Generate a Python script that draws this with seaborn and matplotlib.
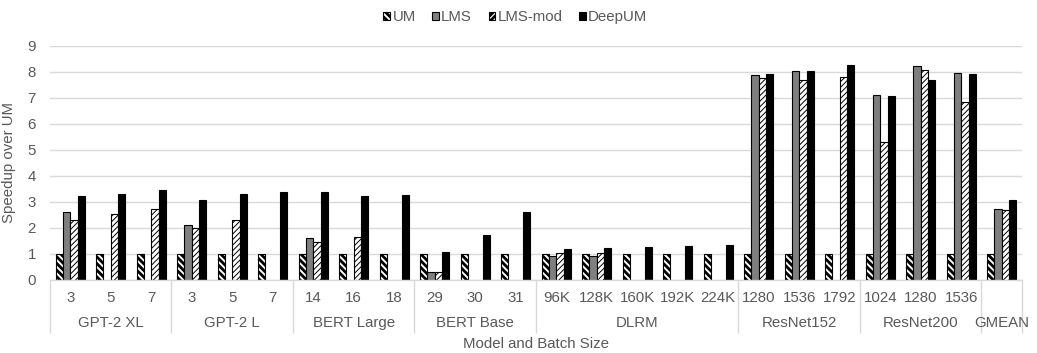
import numpy as np
import pandas as pd
import matplotlib
matplotlib.use("Agg")
import matplotlib.pyplot as plt
from matplotlib.patches import Patch
import seaborn as sns

# ---- data -------------------------------------------------------------
groups = ["GPT-2 XL", "GPT-2 L", "BERT Large", "BERT Base", "DLRM",
          "ResNet152", "ResNet200", "GMEAN"]
batch_sizes = [
    ["3", "5", "7"],
    ["3", "5", "7"],
    ["14", "16", "18"],
    ["29", "30", "31"],
    ["96K", "128K", "160K", "192K", "224K"],
    ["1280", "1536", "1792"],
    ["1024", "1280", "1536"],
    [""],
]
series = ["UM", "LMS", "LMS-mod", "DeepUM"]
nan = np.nan
um = [1.0] * 24
lms = [2.63, nan, nan, 2.11, nan, nan, 1.61, nan, nan, 0.30, nan, nan,
       0.93, 0.91, nan, nan, nan, 7.90, 8.04, nan, 7.12, 8.22, 7.98, 2.74]
lms_mod = [2.30, 2.55, 2.74, 2.00, 2.30, nan, 1.48, 1.66, nan, 0.30, nan, nan,
           1.05, 1.04, nan, nan, nan, 7.76, 7.68, 7.79, 5.29, 8.07, 6.83, 2.69]
deepum = [3.22, 3.29, 3.47, 3.08, 3.30, 3.37, 3.37, 3.24, 3.27, 1.06, 1.74, 2.62,
          1.20, 1.22, 1.27, 1.32, 1.33, 7.91, 8.03, 8.27, 7.08, 7.71, 7.94, 3.06]

# ---- long-form table ----------------------------------------------------
keys, tick_labels = [], []
for g, sizes in zip(groups, batch_sizes):
    for b in sizes:
        keys.append(f"{g}|{b}")
        tick_labels.append(b)

rows = []
for name, vals in zip(series, [um, lms, lms_mod, deepum]):
    for k, v in zip(keys, vals):
        rows.append({"key": k, "series": name, "speedup": v})
df = pd.DataFrame(rows)

# ---- style ----------------------------------------------------------------
sns.set_style("white")
plt.rcParams["font.family"] = ["Liberation Sans", "DejaVu Sans"]
plt.rcParams["hatch.linewidth"] = 2.0
text_color = "#595959"
grid_color = "#d9d9d9"

fig = plt.figure(figsize=(10.37, 3.53), dpi=100)
ax = fig.add_axes([0.0482, 0.2068, 0.9373, 0.6629])

palette = {"UM": "white", "LMS": "#7f7f7f", "LMS-mod": "white", "DeepUM": "black"}
hatches = {"UM": "\\\\\\\\\\", "LMS": "", "LMS-mod": "//////", "DeepUM": ""}
hatch_widths = {"UM": 2.0, "LMS": 1.0, "LMS-mod": 0.7, "DeepUM": 1.0}

sns.barplot(data=df, x="key", y="speedup", hue="series", order=keys,
            hue_order=series, palette=palette, width=0.72, errorbar=None,
            edgecolor="black", linewidth=0.8, legend=False, ax=ax)

for name, cont in zip(series, ax.containers):
    for bar in cont:
        bar.set_hatch(hatches[name])
        if hasattr(bar, "set_hatch_linewidth"):
            bar.set_hatch_linewidth(hatch_widths[name])

# ---- axes ------------------------------------------------------------------
ax.set_ylim(0, 9)
ax.set_yticks(range(10))
ax.yaxis.grid(True, color=grid_color, linewidth=1)
ax.set_axisbelow(True)
for side in ["top", "right", "left"]:
    ax.spines[side].set_visible(False)
ax.spines["bottom"].set_color(grid_color)
ax.spines["bottom"].set_linewidth(1)

ax.set_xlim(-0.5, len(keys) - 0.5)
ax.set_xticks(range(len(keys)))
ax.set_xticklabels(tick_labels)
ax.tick_params(axis="x", which="both", bottom=True)
ax.tick_params(axis="x", which="major", length=0, pad=8, labelsize=10.8,
               labelcolor=text_color)
ax.tick_params(axis="y", length=0, pad=10, labelsize=10.8, labelcolor=text_color)

# group separators drawn as long minor ticks
bounds = [-0.5]
pos = -0.5
for sizes in batch_sizes:
    pos += len(sizes)
    bounds.append(pos)
ax.set_xticks(bounds, minor=True)
ax.tick_params(axis="x", which="minor", length=38, width=1, color=grid_color,
               direction="out", labelbottom=False)

# group names under the batch sizes
start = 0
for g, sizes in zip(groups, batch_sizes):
    center = start + (len(sizes) - 1) / 2
    ax.annotate(g, xy=(center, 0), xycoords=("data", "axes fraction"),
                xytext=(0, -43), textcoords="offset pixels",
                ha="center", va="center", fontsize=10.8, color=text_color)
    start += len(sizes)

ax.set_xlabel("Model and Batch Size", fontsize=10.8, color=text_color)
ax.xaxis.set_label_coords(0.5, -0.243)
ax.set_ylabel("Speedup over UM", fontsize=10.8, color=text_color, labelpad=8)

handles = [Patch(facecolor=palette[s], edgecolor="black", hatch=hatches[s],
                 linewidth=0.8, label=s) for s in series]
fig.legend(handles=handles, loc="center", bbox_to_anchor=(0.497, 0.952),
           ncol=4, frameon=False, fontsize=10.8, handlelength=0.45,
           handleheight=0.45, handletextpad=0.15, columnspacing=1.1,
           labelcolor=text_color)

fig.savefig("out.png", dpi=100)
